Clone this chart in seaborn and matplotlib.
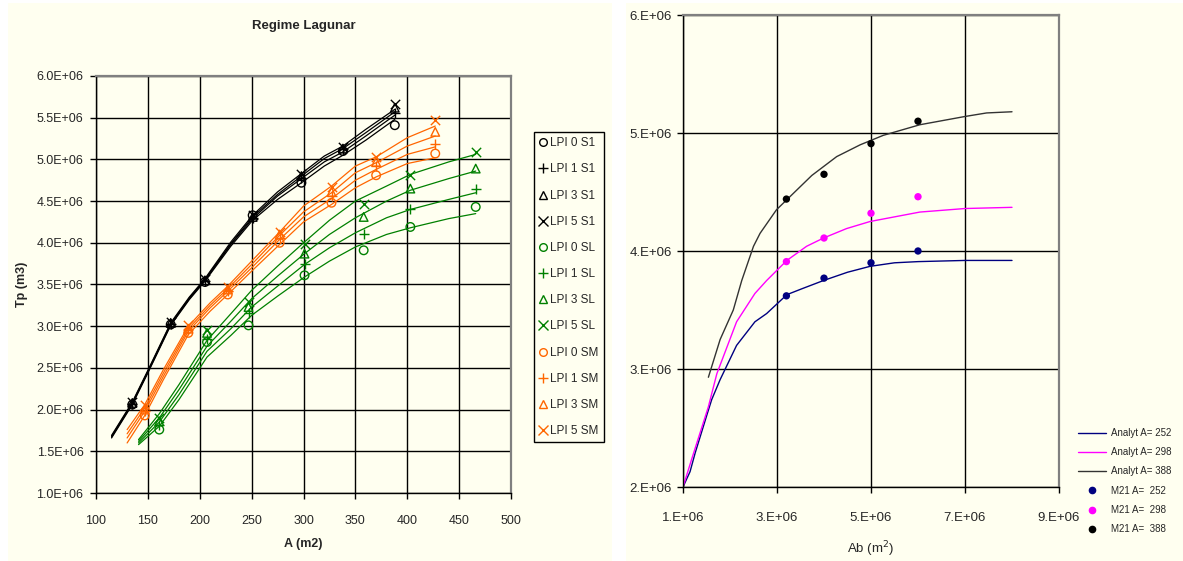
import matplotlib
matplotlib.use('Agg')
import matplotlib.pyplot as plt
from matplotlib.ticker import FuncFormatter
from matplotlib.lines import Line2D
from matplotlib.patches import Rectangle
import seaborn as sns

sns.set_style('ticks')
plt.rcParams['font.family'] = ['Liberation Sans', 'DejaVu Sans']

# ---------------- left chart : Regime Lagunar (Tp in 1E+06 m3) ----------------
lpi_names = ['LPI 0', 'LPI 1', 'LPI 3', 'LPI 5']

# S1 (black)
a_S1_line = [115, 135, 150, 172, 190, 205, 230, 251, 275, 298, 320, 338, 360, 388]
tp_S1_line = [[1.66, 2.06, 2.44, 3.01, 3.32, 3.54, 3.96, 4.27, 4.52, 4.72, 4.92, 5.05, 5.23, 5.48],
              [1.67, 2.07, 2.45, 3.02, 3.33, 3.55, 3.98, 4.29, 4.56, 4.77, 4.97, 5.09, 5.28, 5.53],
              [1.68, 2.08, 2.46, 3.03, 3.34, 3.56, 3.99, 4.31, 4.58, 4.80, 5.01, 5.13, 5.32, 5.57],
              [1.69, 2.09, 2.47, 3.04, 3.35, 3.57, 4.01, 4.33, 4.61, 4.83, 5.04, 5.16, 5.36, 5.60]]
a_S1_mark = [135, 172, 205, 251, 298, 338, 388]
tp_S1_mark = [[2.06, 3.02, 3.53, 4.33, 4.72, 5.10, 5.41],
              [2.07, 3.03, 3.54, 4.30, 4.78, 5.12, 5.56],
              [2.08, 3.04, 3.55, 4.31, 4.80, 5.13, 5.62],
              [2.09, 3.05, 3.57, 4.33, 4.82, 5.15, 5.66]]

# SL (green)
a_SL_line = [141, 161, 180, 207, 230, 250, 275, 301, 325, 350, 380, 403, 440, 466]
tp_SL_line = [[1.58, 1.80, 2.12, 2.63, 2.89, 3.13, 3.36, 3.59, 3.78, 3.95, 4.10, 4.18, 4.29, 4.35],
              [1.60, 1.85, 2.18, 2.70, 2.97, 3.23, 3.48, 3.74, 3.94, 4.12, 4.30, 4.40, 4.52, 4.60],
              [1.62, 1.90, 2.24, 2.76, 3.06, 3.33, 3.60, 3.87, 4.10, 4.30, 4.50, 4.63, 4.77, 4.86],
              [1.64, 1.95, 2.30, 2.83, 3.15, 3.43, 3.72, 4.01, 4.27, 4.50, 4.68, 4.82, 4.97, 5.06]]
a_SL_mark = [161, 207, 247, 301, 358, 403, 466]
tp_SL_mark = [[1.76, 2.81, 3.01, 3.61, 3.91, 4.19, 4.43],
              [1.82, 2.85, 3.16, 3.75, 4.11, 4.41, 4.65],
              [1.86, 2.92, 3.23, 3.87, 4.31, 4.65, 4.89],
              [1.90, 2.95, 3.29, 3.99, 4.47, 4.81, 5.09]]

# SM (orange)
a_SM_line = [130, 147, 165, 189, 210, 227, 250, 277, 300, 327, 350, 370, 400, 427]
tp_SM_line = [[1.60, 1.93, 2.36, 2.90, 3.18, 3.38, 3.66, 3.98, 4.25, 4.46, 4.66, 4.79, 4.95, 5.02],
              [1.66, 1.98, 2.40, 2.94, 3.22, 3.42, 3.70, 4.04, 4.31, 4.53, 4.75, 4.88, 5.06, 5.15],
              [1.71, 2.02, 2.44, 2.97, 3.25, 3.45, 3.74, 4.09, 4.37, 4.60, 4.84, 4.96, 5.16, 5.28],
              [1.76, 2.06, 2.48, 3.00, 3.28, 3.48, 3.78, 4.13, 4.44, 4.68, 4.92, 5.03, 5.26, 5.40]]
a_SM_mark = [147, 189, 227, 277, 327, 370, 427]
tp_SM_mark = [[1.93, 2.92, 3.38, 4.00, 4.48, 4.81, 5.07],
              [1.98, 2.95, 3.42, 4.06, 4.56, 4.92, 5.19],
              [2.00, 2.97, 3.44, 4.10, 4.61, 4.97, 5.33],
              [2.05, 3.01, 3.47, 4.13, 4.67, 5.03, 5.47]]

# ---------------- right chart (Ab in 1E+06 m2, Tp in 1E+06) ----------------
ab_252 = [1.0, 1.15, 1.26, 1.5, 1.61, 1.79, 2.14, 2.53, 2.78, 3.21, 3.53, 3.99, 4.5, 4.98, 5.5, 6.0, 7.0, 8.0]
tp_252 = [2.0, 2.13, 2.29, 2.60, 2.74, 2.91, 3.20, 3.40, 3.47, 3.63, 3.68, 3.75, 3.82, 3.87, 3.90, 3.91, 3.92, 3.92]
ab_298 = [1.0, 1.18, 1.54, 1.72, 2.14, 2.53, 2.78, 3.21, 3.63, 3.99, 4.48, 4.98, 6.04, 7.0, 8.0]
tp_298 = [2.0, 2.23, 2.68, 2.96, 3.40, 3.64, 3.75, 3.92, 4.04, 4.11, 4.19, 4.25, 4.33, 4.36, 4.37]
ab_388 = [1.54, 1.79, 2.07, 2.25, 2.50, 2.64, 2.99, 3.74, 4.27, 4.77, 5.26, 6.04, 7.0, 7.46, 8.0]
tp_388 = [2.93, 3.25, 3.50, 3.75, 4.04, 4.15, 4.35, 4.64, 4.80, 4.90, 4.98, 5.07, 5.14, 5.17, 5.18]
ab_m21 = [3.2, 4.0, 5.0, 6.0]
tp_m21_252 = [3.62, 3.77, 3.90, 4.00]
tp_m21_298 = [3.91, 4.11, 4.32, 4.46]
tp_m21_388 = [4.44, 4.65, 4.91, 5.10]

W, H = 1183, 561
ivory = '#FFFFF0'
fig = plt.figure(figsize=(W / 100, H / 100), dpi=100)
fig.patch.set_facecolor('white')
fig.patches.append(Rectangle((8 / W, 0), (612 - 8) / W, 1 - 3 / H, transform=fig.transFigure,
                             facecolor=ivory, edgecolor='none', zorder=-10))
fig.patches.append(Rectangle((626 / W, 0), (W - 626) / W, 1 - 3 / H, transform=fig.transFigure,
                             facecolor=ivory, edgecolor='none', zorder=-10))


def style_axes(ax):
    ax.set_facecolor(ivory)
    ax.grid(True, color='black', linewidth=1.0)
    ax.set_axisbelow(True)
    for s in ['top', 'right']:
        ax.spines[s].set_color('#808080')
        ax.spines[s].set_linewidth(1.6)
    for s in ['left', 'bottom']:
        ax.spines[s].set_color('black')
        ax.spines[s].set_linewidth(1.0)
    ax.tick_params(direction='out', length=4, width=1, color='black')


# ---------------- left ----------------
ax1 = fig.add_axes([96 / W, 1 - 493 / H, (511 - 96) / W, (493 - 76) / H])
style_axes(ax1)

marks = ['o', '+', '^', 'x']
groups = [('S1', 'black', a_S1_line, tp_S1_line, a_S1_mark, tp_S1_mark),
          ('SL', '#008000', a_SL_line, tp_SL_line, a_SL_mark, tp_SL_mark),
          ('SM', '#FF6600', a_SM_line, tp_SM_line, a_SM_mark, tp_SM_mark)]
handles = []; labels = []
for gname, col, al, tl, am, tm in groups:
    for kk in range(4):
        sns.lineplot(x=al, y=tl[kk], color=col, linewidth=0.9, sort=False, estimator=None, ax=ax1)
        if marks[kk] in ['o', '^']:
            sns.scatterplot(x=am, y=tm[kk], marker=marks[kk], s=38, facecolor='none', edgecolor=col,
                            linewidth=1.0, ax=ax1, zorder=3)
            h = Line2D([], [], ls='none', marker=marks[kk], mfc='none', mec=col, ms=5.5, mew=1.0)
        else:
            sns.scatterplot(x=am, y=tm[kk], marker=marks[kk], s=45, color=col,
                            linewidth=1.0, ax=ax1, zorder=3)
            h = Line2D([], [], ls='none', marker=marks[kk], color=col, ms=6.5, mew=1.0)
        handles.append(h); labels.append(lpi_names[kk] + ' ' + gname)

ax1.set_xlim(100, 500); ax1.set_ylim(1.0, 6.0)
ax1.set_xticks(range(100, 501, 50))
ax1.set_yticks([1.0 + 0.5 * i for i in range(11)])
ax1.yaxis.set_major_formatter(FuncFormatter(lambda v, p: '%.1fE+06' % v))
ax1.tick_params(axis='x', labelsize=9, pad=12)
ax1.tick_params(axis='y', labelsize=9, pad=5)
ax1.set_xlabel('A (m2)', fontsize=9, fontweight='bold', labelpad=8)
ax1.set_ylabel('Tp (m3)', fontsize=9, fontweight='bold', labelpad=6)
ax1.set_title('Regime Lagunar', fontsize=9.5, fontweight='bold', pad=34)

fig.legend(handles, labels, loc='upper left', bbox_to_anchor=(534 / W, 1 - 132 / H),
           bbox_transform=fig.transFigure, frameon=True, fancybox=False, edgecolor='black',
           facecolor=ivory, framealpha=1, fontsize=8.5, handlelength=0.6, handletextpad=0.3,
           labelspacing=1.2, borderpad=0.45, borderaxespad=0)

# ---------------- right ----------------
ax2 = fig.add_axes([683 / W, 1 - 487 / H, (1059 - 683) / W, (487 - 15) / H])
style_axes(ax2)
sns.lineplot(x=ab_252, y=tp_252, color='#000080', linewidth=1.0, sort=False, estimator=None, ax=ax2)
sns.lineplot(x=ab_298, y=tp_298, color='#FF00FF', linewidth=1.0, sort=False, estimator=None, ax=ax2)
sns.lineplot(x=ab_388, y=tp_388, color='#333333', linewidth=1.0, sort=False, estimator=None, ax=ax2)
sns.scatterplot(x=ab_m21, y=tp_m21_252, color='#000080', s=28, edgecolor='none', ax=ax2, zorder=3)
sns.scatterplot(x=ab_m21, y=tp_m21_298, color='#FF00FF', s=28, edgecolor='none', ax=ax2, zorder=3)
sns.scatterplot(x=ab_m21, y=tp_m21_388, color='black', s=28, edgecolor='none', ax=ax2, zorder=3)
ax2.set_xlim(1, 9); ax2.set_ylim(2, 6)
ax2.set_xticks([1, 3, 5, 7, 9]); ax2.set_yticks([2, 3, 4, 5, 6])
ax2.xaxis.set_major_formatter(FuncFormatter(lambda v, p: '%d.E+06' % round(v)))
ax2.yaxis.set_major_formatter(FuncFormatter(lambda v, p: '%d.E+06' % round(v)))
ax2.tick_params(axis='x', labelsize=9.5, pad=14)
ax2.tick_params(axis='y', labelsize=9.5, pad=4)
ax2.set_xlabel('Ab (m$^{2}$)', fontsize=9.5, labelpad=11)

h2 = [Line2D([], [], color='#000080', lw=1.0), Line2D([], [], color='#FF00FF', lw=1.0),
      Line2D([], [], color='#333333', lw=1.0),
      Line2D([], [], ls='none', marker='o', color='#000080', ms=4.5),
      Line2D([], [], ls='none', marker='o', color='#FF00FF', ms=4.5),
      Line2D([], [], ls='none', marker='o', color='black', ms=4.5)]
l2 = ['Analyt A= 252', 'Analyt A= 298', 'Analyt A= 388', 'M21 A=  252', 'M21 A=  298', 'M21 A=  388']
fig.legend(h2, l2, loc='upper left', bbox_to_anchor=(1078 / W, 1 - 428 / H),
           bbox_transform=fig.transFigure, frameon=False, fontsize=7, handlelength=2.9,
           handletextpad=0.5, labelspacing=0.95, borderaxespad=0, borderpad=0)

fig.savefig('out.png', dpi=100, facecolor=fig.get_facecolor())
